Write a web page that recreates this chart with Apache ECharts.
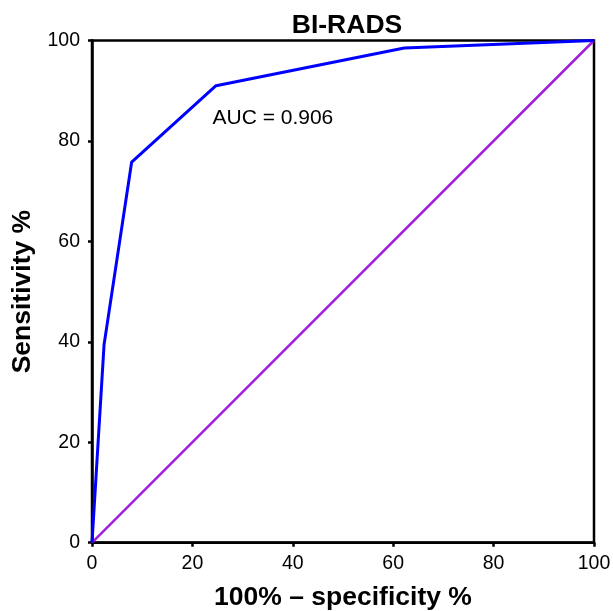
<!DOCTYPE html>
<html>
<head>
<meta charset="utf-8">
<script src="https://cdn.jsdelivr.net/npm/echarts@6/dist/echarts.min.js"></script>
<style>
  html, body { margin: 0; padding: 0; background: #fff; }
  #chart { width: 613px; height: 611px; }
</style>
</head>
<body>
<div id="chart"></div>
<script>
// ROC curve for BI-RADS: false positive rate (100% - specificity) vs sensitivity
const fprValues = [0, 2.4, 7.9, 24.7, 62.2, 100];
const sensitivityValues = [0, 39.4, 75.8, 91.0, 98.5, 100];
// Chance (reference) line
const chanceX = [0, 100];
const chanceY = [0, 100];
const axisTicks = [0, 20, 40, 60, 80, 100];
const aucText = 'AUC = 0.906';
const aucAnchor = [24, 84.6];

const FONT = 'Liberation Sans, Arial, Helvetica, sans-serif';

const chart = echarts.init(document.getElementById('chart'), null, { renderer: 'canvas' });

chart.setOption({
  backgroundColor: '#ffffff',
  animation: false,
  title: {
    text: 'BI-RADS',
    left: 342,
    top: 7,
    textAlign: 'center',
    textStyle: { fontFamily: FONT, fontSize: 26.5, fontWeight: 'bold', color: '#000' }
  },
  grid: {
    left: 92, right: 19, top: 40.5, bottom: 68.3,
    containLabel: false,
    outerBoundsMode: 'none',
    show: true, borderColor: '#000', borderWidth: 2.5, backgroundColor: 'transparent'
  },
  xAxis: {
    type: 'value', min: axisTicks[0], max: axisTicks[axisTicks.length - 1], interval: 20,
    name: '100% \u2013 specificity %',
    nameLocation: 'middle', nameGap: 41,
    nameTextStyle: { fontFamily: FONT, fontSize: 26.5, fontWeight: 'bold', color: '#000' },
    axisLine: { show: true, lineStyle: { color: '#000', width: 2.5 } },
    axisTick: { show: true, length: 4, lineStyle: { color: '#000', width: 2.5 } },
    axisLabel: { fontFamily: FONT, fontSize: 19.5, color: '#000', margin: 11 },
    splitLine: { show: false }
  },
  yAxis: {
    type: 'value', min: axisTicks[0], max: axisTicks[axisTicks.length - 1], interval: 20,
    name: 'Sensitivity %',
    nameLocation: 'middle', nameGap: 51,
    nameTextStyle: { fontFamily: FONT, fontSize: 26.5, fontWeight: 'bold', color: '#000' },
    axisLine: { show: true, lineStyle: { color: '#000', width: 2.5 } },
    axisTick: { show: true, length: 4, lineStyle: { color: '#000', width: 2.5 } },
    axisLabel: { fontFamily: FONT, fontSize: 19.5, color: '#000', margin: 12 },
    splitLine: { show: false }
  },
  series: [
    {
      name: 'Chance',
      type: 'line',
      data: chanceX.map((x, i) => [x, chanceY[i]]),
      showSymbol: false,
      symbol: 'none',
      lineStyle: { color: '#9E1FDE', width: 2.5 },
      z: 2
    },
    {
      name: 'BI-RADS',
      type: 'line',
      data: fprValues.map((x, i) => [x, sensitivityValues[i]]),
      showSymbol: false,
      symbol: 'none',
      lineStyle: { color: '#0000FF', width: 3 },
      z: 3,
      markPoint: {
        symbol: 'circle',
        symbolSize: 0,
        silent: true,
        data: [{ coord: aucAnchor, value: aucText }],
        label: {
          show: true,
          position: 'right',
          distance: 0,
          formatter: aucText,
          fontFamily: FONT,
          fontSize: 21,
          color: '#000'
        }
      }
    }
  ]
});
</script>
</body>
</html>
